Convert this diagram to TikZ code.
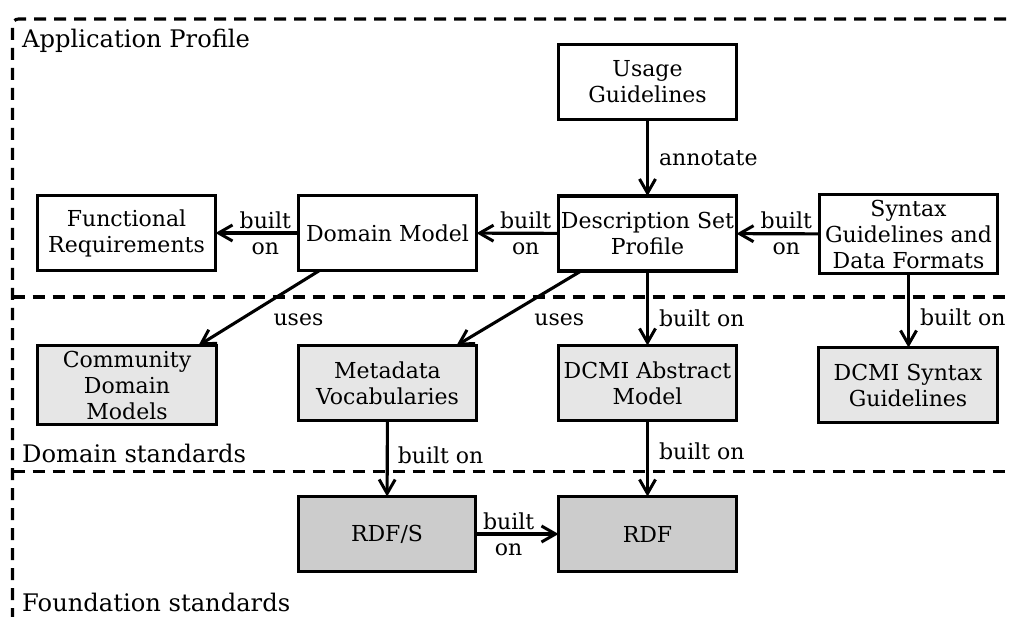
\documentclass[tikz,border=0pt]{standalone}
\usepackage{fontspec}
\setmainfont{DejaVu Serif}
\usetikzlibrary{arrows.meta}
\definecolor{domfill}{HTML}{E6E6E6}
\definecolor{fndfill}{HTML}{CCCCCC}
\tikzset{
  txt/.style={font=\fontsize{22}{26}\selectfont},
  stdbox/.style={txt, draw, line width=3.2pt, align=center, inner sep=0pt, outer sep=0pt},
  dombox/.style={stdbox, fill=domfill},
  fndbox/.style={stdbox, fill=fndfill},
  conn/.style={line width=3.1pt, -{Straight Barb[length=14pt,width=16pt,line width=3pt]}},
  lbl/.style={txt, inner sep=0pt, align=center},
  frame/.style={line width=3.1pt, dash pattern=on 12pt off 8pt},
  region/.style={font=\fontsize{24.2}{28}\selectfont, anchor=base west, inner sep=0pt}
}
\begin{document}
\begin{tikzpicture}[x=1pt,y=-1pt]
\useasboundingbox (0,0) rectangle (1011,617);
% frame and dividers
\draw[frame, rounded corners=6pt] (12.5,640) -- (12.5,19) -- (1040,19);
\draw[frame] (12.5,297) -- (1011,297);
\draw[frame] (12.5,471.5) -- (1011,471.5);
% region labels
\node[region] (lap) at (22,48) {Application Profile};
\node[region] (lds) at (22,462) {Domain standards};
\node[region] (lfs) at (22,611) {Foundation standards};
% boxes
\node[stdbox, minimum width=178pt, minimum height=75pt] (ug)  at (647.5,82)  {Usage\\Guidelines};
\node[stdbox, minimum width=178pt, minimum height=75pt] (dsp) at (647.5,233.5) {Description Set\\Profile};
\node[stdbox, minimum width=178pt, minimum height=79pt] (sg)  at (908.5,234) {Syntax\\Guidelines and\\Data Formats};
\node[stdbox, minimum width=178pt, minimum height=75pt] (dm)  at (387.5,233) {Domain Model};
\node[stdbox, minimum width=178pt, minimum height=75pt] (fr)  at (126.5,233) {Functional\\Requirements};
\node[dombox, minimum width=179pt, minimum height=79pt] (cdm) at (127,385) {Community\\Domain\\Models};
\node[dombox, minimum width=178pt, minimum height=75pt] (mv)  at (387.5,383) {Metadata\\Vocabularies};
\node[dombox, minimum width=178pt, minimum height=75pt] (dam) at (647.5,383) {DCMI Abstract\\Model};
\node[dombox, minimum width=179pt, minimum height=75pt] (dsg) at (908,385) {DCMI Syntax\\Guidelines};
\node[fndbox, minimum width=177pt, minimum height=75pt] (rdfs) at (387,534) {RDF/S};
\node[fndbox, minimum width=178pt, minimum height=75pt] (rdf)  at (647.5,534) {RDF};
% connectors
\draw[conn] (ug) -- node[lbl, pos=0.6, anchor=base west, xshift=10pt] {annotate} (dsp);
\draw[conn] (dsp) -- node[lbl, pos=0.4] {built\\on} (dm);
\draw[conn] (dm) -- node[lbl, pos=0.4] {built\\on} (fr);
\draw[conn] (sg) -- node[lbl, pos=0.4] {built\\on} (dsp);
\draw[conn] (dsp) -- node[lbl, pos=0.74, anchor=base west, xshift=10pt] {built on} (dam);
\draw[conn] (sg.south) -- node[lbl, pos=0.7, anchor=base west, xshift=10pt] {built on} (sg.south |- dsg.north);
\draw[conn] ([xshift=21pt]dm.south west) -- node[lbl, pos=0.736, anchor=base, xshift=68pt] {uses} ([xshift=-18pt]cdm.north east);
\draw[conn] ([xshift=22.5pt]dsp.south west) -- node[lbl, pos=0.736, anchor=base, xshift=70pt] {uses} ([xshift=-20pt]mv.north east);
\draw[conn] (mv) -- node[lbl, pos=0.57, anchor=base west, xshift=9pt] {built on} (rdfs);
\draw[conn] (dam) -- node[lbl, pos=0.51, anchor=base west, xshift=10pt] {built on} (rdf);
\draw[conn] (rdfs) -- node[lbl, pos=0.4] {built\\on} (rdf);
\end{tikzpicture}
\end{document}
